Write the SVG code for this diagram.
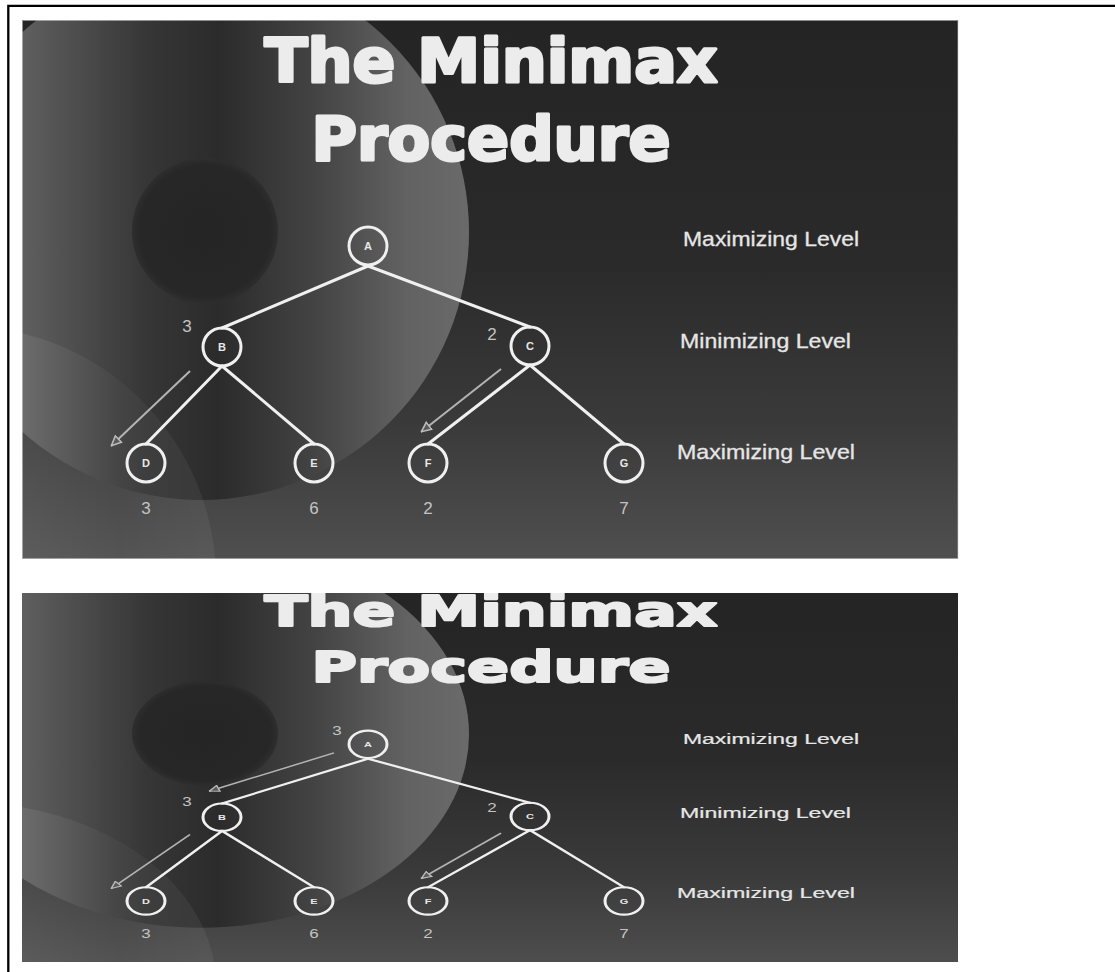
<svg xmlns="http://www.w3.org/2000/svg" width="1115" height="972" viewBox="0 0 1115 972">
<defs>
<style>
.edge{stroke:#f0f0f0;stroke-width:3;fill:none;stroke-linecap:round}
.node circle{fill:none;stroke:#f0f0f0;stroke-width:3}
.nlabel{font-family:"Liberation Sans",Arial,sans-serif;font-weight:bold;font-size:11px;fill:#e8e8e8;text-anchor:middle}
.val{font-family:"Liberation Sans",Arial,sans-serif;font-size:17px;fill:#c4c4c4;text-anchor:middle}
.level{font-family:"Liberation Sans",Arial,sans-serif;font-size:21px;fill:#e6e6e6;stroke:#e6e6e6;stroke-width:0.3}
.title{font-family:"DejaVu Sans","Liberation Sans",sans-serif;font-weight:bold;font-size:60px;fill:#ececec;stroke:#ececec;stroke-width:3;stroke-linejoin:round;text-anchor:middle}
.hint{stroke:#b4b4b4;stroke-width:2;fill:none;marker-end:url(#hollow)}
</style>
<marker id="hollow" viewBox="0 0 10 10" refX="10" refY="5" markerWidth="11" markerHeight="11" markerUnits="userSpaceOnUse" orient="auto">
<path d="M0.8,1 L9.5,5 L0.8,9 Z" fill="#5a5a5a" stroke="#bcbcbc" stroke-width="1.4"/>
</marker>
<linearGradient id="bg" x1="0" y1="20" x2="0" y2="559" gradientUnits="userSpaceOnUse">
<stop offset="0" stop-color="#242424"/>
<stop offset="0.45" stop-color="#2a2a2a"/>
<stop offset="0.75" stop-color="#3a3a3a"/>
<stop offset="1" stop-color="#4f4f4f"/>
</linearGradient>
<linearGradient id="disc" x1="22" y1="0" x2="469" y2="0" gradientUnits="userSpaceOnUse">
<stop offset="0" stop-color="#5f5f5f"/>
<stop offset="0.13" stop-color="#4c4c4c"/>
<stop offset="0.28" stop-color="#363636"/>
<stop offset="0.44" stop-color="#2b2b2b"/>
<stop offset="0.66" stop-color="#444444"/>
<stop offset="0.86" stop-color="#626262"/>
<stop offset="1" stop-color="#6a6a6a"/>
</linearGradient>
<radialGradient id="inner" cx="0.5" cy="0.5" r="0.5">
<stop offset="0" stop-color="#252525"/>
<stop offset="0.9" stop-color="#272727"/>
<stop offset="1" stop-color="#2e2e2e"/>
</radialGradient>
<linearGradient id="disc2" x1="22" y1="0" x2="216" y2="0" gradientUnits="userSpaceOnUse">
<stop offset="0" stop-color="#ffffff" stop-opacity="0.08"/>
<stop offset="0.5" stop-color="#ffffff" stop-opacity="0.03"/>
<stop offset="1" stop-color="#ffffff" stop-opacity="0.06"/>
</linearGradient>
<clipPath id="clip1"><rect x="22" y="20" width="936" height="539"/></clipPath>
<clipPath id="clip2"><rect x="22" y="593" width="936" height="369"/></clipPath>
</defs>

<rect x="0" y="0" width="1115" height="972" fill="#ffffff"/>
<path d="M8.3 972 V5.8 H1115" stroke="#000000" stroke-width="2.3" fill="none"/>

<!-- Panel 1 -->
<g id="panel1" clip-path="url(#clip1)">
<g id="p1-background">
<rect x="22" y="20" width="936" height="539" fill="url(#bg)"/>
<circle cx="201" cy="232" r="268" fill="url(#disc)"/>
<circle cx="205" cy="231" r="73" fill="url(#inner)"/>
<circle cx="-38" cy="580" r="254" fill="url(#disc2)"/>
</g>
<g id="p1-title">
<text class="title" x="491" y="82" textLength="453" lengthAdjust="spacingAndGlyphs">The Minimax</text>
<text class="title" x="491" y="160" textLength="359" lengthAdjust="spacingAndGlyphs">Procedure</text>
</g>
<g id="p1-connectors">
<line class="edge" x1="368" y1="266" x2="222" y2="328"/>
<line class="edge" x1="368" y1="266" x2="530" y2="327"/>
<line class="edge" x1="222" y1="366" x2="146" y2="444"/>
<line class="edge" x1="222" y1="366" x2="314" y2="444"/>
<line class="edge" x1="530" y1="365" x2="428" y2="444"/>
<line class="edge" x1="530" y1="365" x2="624" y2="444"/>
<line class="hint" x1="190" y1="371" x2="111" y2="446"/>
<line class="hint" x1="501" y1="369" x2="421" y2="432"/>
</g>
<g id="p1-node-A" class="node"><circle cx="368" cy="246" r="19"/><text class="nlabel" x="368" y="250">A</text></g>
<g id="p1-node-B" class="node"><circle cx="222" cy="347" r="19"/><text class="nlabel" x="222" y="351">B</text><text class="val" x="187" y="332">3</text></g>
<g id="p1-node-C" class="node"><circle cx="530" cy="346" r="19"/><text class="nlabel" x="530" y="350">C</text><text class="val" x="492" y="340">2</text></g>
<g id="p1-node-D" class="node"><circle cx="146" cy="463" r="19"/><text class="nlabel" x="146" y="467">D</text><text class="val" x="146" y="514">3</text></g>
<g id="p1-node-E" class="node"><circle cx="314" cy="463" r="19"/><text class="nlabel" x="314" y="467">E</text><text class="val" x="314" y="514">6</text></g>
<g id="p1-node-F" class="node"><circle cx="428" cy="463" r="19"/><text class="nlabel" x="428" y="467">F</text><text class="val" x="428" y="514">2</text></g>
<g id="p1-node-G" class="node"><circle cx="624" cy="463" r="19"/><text class="nlabel" x="624" y="467">G</text><text class="val" x="624" y="514">7</text></g>
<g id="p1-levels">
<text class="level" x="683" y="246" textLength="176" lengthAdjust="spacingAndGlyphs">Maximizing Level</text>
<text class="level" x="680" y="348" textLength="171" lengthAdjust="spacingAndGlyphs">Minimizing Level</text>
<text class="level" x="677" y="459" textLength="178" lengthAdjust="spacingAndGlyphs">Maximizing Level</text>
</g>
</g>
<rect x="22.5" y="20.5" width="935.5" height="538" fill="none" stroke="#d4d4d4" stroke-width="1" opacity="0.6"/>

<!-- Panel 2 -->
<g id="panel2" clip-path="url(#clip2)">
<g transform="matrix(1 0 0 0.722 0 566.67)">
<g id="p2-background">
<rect x="22" y="20" width="936" height="539" fill="url(#bg)"/>
<circle cx="201" cy="232" r="268" fill="url(#disc)"/>
<circle cx="205" cy="231" r="73" fill="url(#inner)"/>
<circle cx="-38" cy="580" r="254" fill="url(#disc2)"/>
</g>
<g id="p2-title">
<text class="title" x="491" y="82" textLength="453" lengthAdjust="spacingAndGlyphs">The Minimax</text>
<text class="title" x="491" y="160" textLength="359" lengthAdjust="spacingAndGlyphs">Procedure</text>
</g>
<g id="p2-connectors">
<line class="edge" x1="368" y1="266" x2="222" y2="328"/>
<line class="edge" x1="368" y1="266" x2="530" y2="327"/>
<line class="edge" x1="222" y1="366" x2="146" y2="444"/>
<line class="edge" x1="222" y1="366" x2="314" y2="444"/>
<line class="edge" x1="530" y1="365" x2="428" y2="444"/>
<line class="edge" x1="530" y1="365" x2="624" y2="444"/>
<line class="hint" x1="334" y1="258" x2="209" y2="311"/>
<line class="hint" x1="190" y1="371" x2="111" y2="446"/>
<line class="hint" x1="501" y1="369" x2="421" y2="432"/>
</g>
<g id="p2-node-A" class="node"><circle cx="368" cy="246" r="19"/><text class="nlabel" x="368" y="250">A</text><text class="val" x="337" y="233">3</text></g>
<g id="p2-node-B" class="node"><circle cx="222" cy="347" r="19"/><text class="nlabel" x="222" y="351">B</text><text class="val" x="187" y="332">3</text></g>
<g id="p2-node-C" class="node"><circle cx="530" cy="346" r="19"/><text class="nlabel" x="530" y="350">C</text><text class="val" x="492" y="340">2</text></g>
<g id="p2-node-D" class="node"><circle cx="146" cy="463" r="19"/><text class="nlabel" x="146" y="467">D</text><text class="val" x="146" y="514">3</text></g>
<g id="p2-node-E" class="node"><circle cx="314" cy="463" r="19"/><text class="nlabel" x="314" y="467">E</text><text class="val" x="314" y="514">6</text></g>
<g id="p2-node-F" class="node"><circle cx="428" cy="463" r="19"/><text class="nlabel" x="428" y="467">F</text><text class="val" x="428" y="514">2</text></g>
<g id="p2-node-G" class="node"><circle cx="624" cy="463" r="19"/><text class="nlabel" x="624" y="467">G</text><text class="val" x="624" y="514">7</text></g>
<g id="p2-levels">
<text class="level" x="683" y="246" textLength="176" lengthAdjust="spacingAndGlyphs">Maximizing Level</text>
<text class="level" x="680" y="348" textLength="171" lengthAdjust="spacingAndGlyphs">Minimizing Level</text>
<text class="level" x="677" y="459" textLength="178" lengthAdjust="spacingAndGlyphs">Maximizing Level</text>
</g>
</g>
</g>
</svg>
